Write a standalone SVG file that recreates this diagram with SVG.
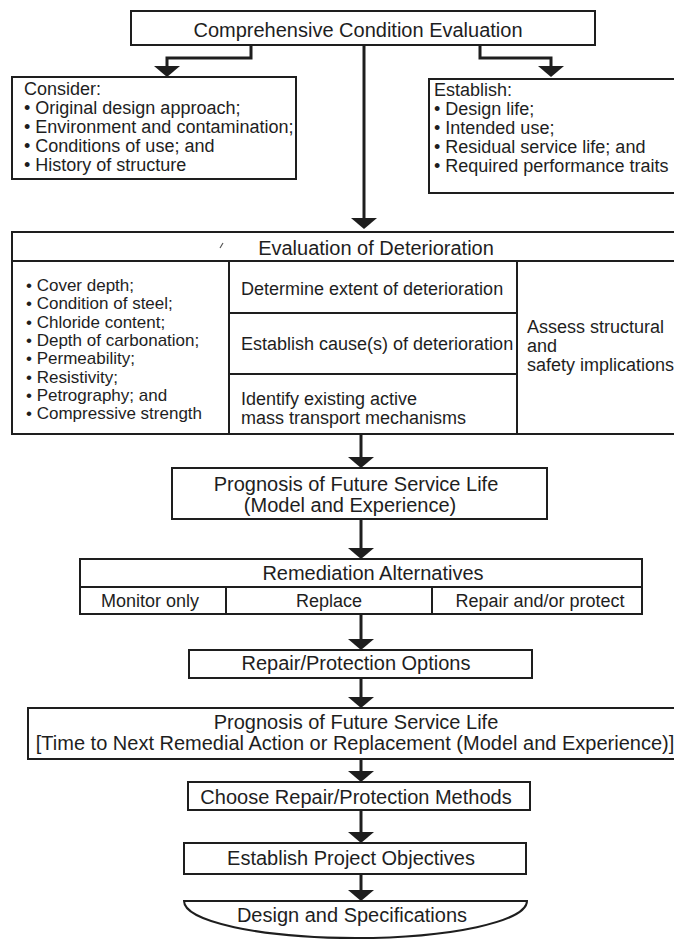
<svg xmlns="http://www.w3.org/2000/svg" width="674" height="941" viewBox="0 0 674 941">
<defs>
<style>
.box{fill:#fff;stroke:#1e1e1e;stroke-width:2}
.div{fill:none;stroke:#1e1e1e;stroke-width:2}
.con{fill:none;stroke:#1e1e1e;stroke-width:3}
.t20{font-family:"Liberation Sans",Arial,sans-serif;font-size:20px;fill:#1e1e1e}
.t18{font-family:"Liberation Sans",Arial,sans-serif;font-size:18px;fill:#1e1e1e}
.t17{font-family:"Liberation Sans",Arial,sans-serif;font-size:17px;fill:#1e1e1e}
.c{text-anchor:middle}
</style>
<marker id="ah" markerUnits="userSpaceOnUse" markerWidth="12" markerHeight="28" viewBox="0 -14 12 28" refX="0" refY="0" orient="auto">
<path d="M0,-13 L11,0 L0,13 Z" fill="#1e1e1e"/>
</marker>
</defs>
<rect width="674" height="941" fill="#fff"/>

<g id="connectors">
<path class="con" d="M251,45 V58 H167 V66" marker-end="url(#ah)"/>
<path class="con" d="M480,45 V58 H551 V66" marker-end="url(#ah)"/>
<path class="con" d="M364,45 V218" marker-end="url(#ah)"/>
<path class="con" d="M361,434 V457" marker-end="url(#ah)"/>
<path class="con" d="M361,519 V548" marker-end="url(#ah)"/>
<path class="con" d="M361,614 V639" marker-end="url(#ah)"/>
<path class="con" d="M361,678 V697" marker-end="url(#ah)"/>
<path class="con" d="M361,759 V771" marker-end="url(#ah)"/>
<path class="con" d="M361,810 V832" marker-end="url(#ah)"/>
<path class="con" d="M361,874 V890" marker-end="url(#ah)"/>
</g>

<g id="n-comprehensive">
<rect class="box" x="131" y="11" width="464" height="34"/>
<text class="t20 c" x="358" y="37">Comprehensive Condition Evaluation</text>
</g>

<g id="n-consider">
<rect class="box" x="12" y="77" width="284" height="102"/>
<text class="t18" x="24" y="95">Consider:</text>
<text class="t18" x="24" y="114">• Original design approach;</text>
<text class="t18" x="24" y="133">• Environment and contamination;</text>
<text class="t18" x="24" y="152">• Conditions of use; and</text>
<text class="t18" x="24" y="171">• History of structure</text>
</g>

<g id="n-establish">
<rect class="box" x="429" y="79" width="260" height="114"/>
<text class="t18" x="434" y="96">Establish:</text>
<text class="t18" x="434" y="115">• Design life;</text>
<text class="t18" x="434" y="134">• Intended use;</text>
<text class="t18" x="434" y="153">• Residual service life; and</text>
<text class="t18" x="434" y="172">• Required performance traits</text>
</g>

<g id="n-evaluation">
<rect class="box" x="12" y="232" width="680" height="202"/>
<path class="div" d="M12,261 H692 M229,261 V434 M517,261 V434 M229,313 H517 M229,374 H517"/>
<path d="M220,248 L223,243" stroke="#555" stroke-width="1.2" fill="none"/>
<text class="t20 c" x="376" y="255">Evaluation of Deterioration</text>
<text class="t17" x="26" y="291">• Cover depth;</text>
<text class="t17" x="26" y="309">• Condition of steel;</text>
<text class="t17" x="26" y="328">• Chloride content;</text>
<text class="t17" x="26" y="346">• Depth of carbonation;</text>
<text class="t17" x="26" y="364">• Permeability;</text>
<text class="t17" x="26" y="383">• Resistivity;</text>
<text class="t17" x="26" y="401">• Petrography; and</text>
<text class="t17" x="26" y="419">• Compressive strength</text>
<text class="t18" x="241" y="295">Determine extent of deterioration</text>
<text class="t18" x="241" y="350">Establish cause(s) of deterioration</text>
<text class="t18" x="241" y="405">Identify existing active</text>
<text class="t18" x="241" y="424">mass transport mechanisms</text>
<text class="t18" x="527" y="333">Assess structural</text>
<text class="t18" x="527" y="352">and</text>
<text class="t18" x="527" y="371">safety implications</text>
</g>

<g id="n-prognosis1">
<rect class="box" x="172" y="468" width="375" height="51"/>
<text class="t20 c" x="356" y="491">Prognosis of Future Service Life</text>
<text class="t20 c" x="350" y="512">(Model and Experience)</text>
</g>

<g id="n-remediation">
<rect class="box" x="80" y="559" width="562" height="55"/>
<path class="div" d="M80,587 H642 M226,587 V614 M432,587 V614"/>
<text class="t20 c" x="373" y="580">Remediation Alternatives</text>
<text class="t18 c" x="150" y="607">Monitor only</text>
<text class="t18 c" x="329" y="607">Replace</text>
<text class="t18 c" x="540" y="607">Repair and/or protect</text>
</g>

<g id="n-options">
<rect class="box" x="189" y="650" width="343" height="28"/>
<text class="t20 c" x="356" y="670">Repair/Protection Options</text>
</g>

<g id="n-prognosis2">
<rect class="box" x="28" y="708" width="660" height="51"/>
<text class="t20 c" x="356" y="729">Prognosis of Future Service Life</text>
<text class="t20 c" x="355" y="750">[Time to Next Remedial Action or Replacement (Model and Experience)]</text>
</g>

<g id="n-choose">
<rect class="box" x="188" y="782" width="342" height="28"/>
<text class="t20 c" x="356" y="804">Choose Repair/Protection Methods</text>
</g>

<g id="n-objectives">
<rect class="box" x="184" y="843" width="342" height="31"/>
<text class="t20 c" x="351" y="865">Establish Project Objectives</text>
</g>

<g id="n-design">
<path class="box" d="M184,901 H527 A171.5,37 0 0 1 184,901 Z"/>
<text class="t20 c" x="352" y="922">Design and Specifications</text>
</g>
</svg>
